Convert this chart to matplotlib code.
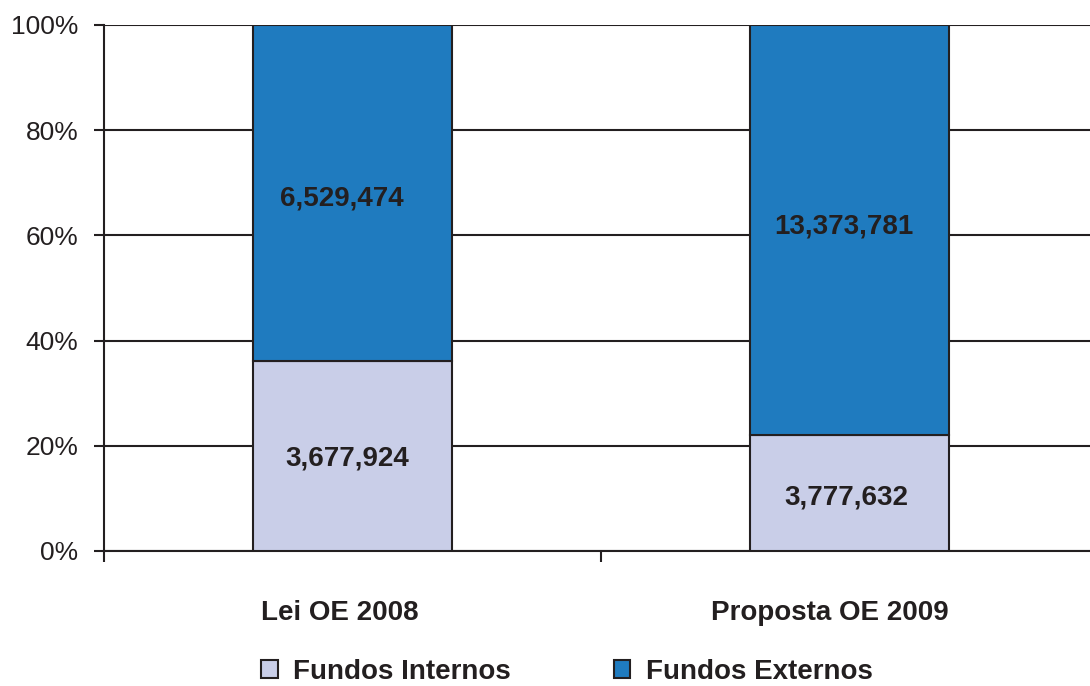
import matplotlib.pyplot as plt
import matplotlib.transforms as mtransforms
import numpy as np

plt.rcParams['font.family'] = ['Liberation Sans', 'DejaVu Sans']

categorias = ['Lei OE 2008', 'Proposta OE 2009']
fundos_internos = [3677924, 3777632]
fundos_externos = [6529474, 13373781]
series_nomes = ['Fundos Internos', 'Fundos Externos']
cores = ['#C9CEE8', '#1F7BBF']
escuro = '#231F20'

internos = np.array(fundos_internos, dtype=float)
externos = np.array(fundos_externos, dtype=float)
total = internos + externos
pct_int = internos / total * 100
pct_ext = externos / total * 100

fig = plt.figure(figsize=(10.9, 6.86), dpi=100)
ax = fig.add_axes([104 / 1090, 1 - 551 / 686, 994 / 1090, 526 / 686])

x = np.arange(len(categorias))
b1 = ax.bar(x, pct_int, width=0.4, color=cores[0], edgecolor=escuro, linewidth=1.5,
            label=series_nomes[0], zorder=3)
b2 = ax.bar(x, pct_ext, width=0.4, bottom=pct_int, color=cores[1], edgecolor=escuro,
            linewidth=1.5, label=series_nomes[1], zorder=3)

# rótulos dos valores (pequenos deslocamentos como no original, em pontos)
desloc_int = [(-4, -1.5), (-2, -3)]
desloc_ext = [(-8, -3.5), (-4, 2.5)]
for i in range(len(categorias)):
    ax.annotate(f'{fundos_internos[i]:,}', (x[i], pct_int[i] / 2),
                xytext=desloc_int[i], textcoords='offset points',
                ha='center', va='center', fontsize=20, fontweight='bold',
                color=escuro, zorder=4)
    ax.annotate(f'{fundos_externos[i]:,}', (x[i], pct_int[i] + pct_ext[i] / 2),
                xytext=desloc_ext[i], textcoords='offset points',
                ha='center', va='center', fontsize=20, fontweight='bold',
                color=escuro, zorder=4)

ax.set_xlim(-0.5, 1.5)
ax.set_ylim(0, 100)
ax.set_yticks(range(0, 101, 20))
ax.set_yticklabels([f'{v}%' for v in range(0, 101, 20)])
ax.yaxis.grid(True, color=escuro, linewidth=1.5)
ax.set_axisbelow(True)

ax.set_xticks(x)
ax.set_xticklabels(categorias, fontsize=20, fontweight='bold', color=escuro)
ax.set_xticks([-0.5, 0.5, 1.5], minor=True)
ax.tick_params(axis='x', which='major', length=0, pad=35)
ax.tick_params(axis='x', which='minor', length=8, width=1.5, color=escuro, direction='out')
ax.tick_params(axis='y', length=7.5, width=1.5, color=escuro, labelsize=19,
               labelcolor=escuro, pad=11)

for lbl, dx in zip(ax.get_xticklabels(), [-13, -20]):
    lbl.set_transform(lbl.get_transform() +
                      mtransforms.ScaledTranslation(dx / 100, 0, fig.dpi_scale_trans))

for s in ['top', 'right']:
    ax.spines[s].set_visible(False)
ax.spines['left'].set_color(escuro)
ax.spines['left'].set_linewidth(1.5)
ax.spines['bottom'].set_color(escuro)
ax.spines['bottom'].set_linewidth(1.5)

leg = fig.legend(handles=[b1, b2], labels=series_nomes, loc='center',
                 bbox_to_anchor=(0.52, 1 - 672 / 686), ncol=2, frameon=False,
                 prop={'size': 20, 'weight': 'bold'}, handlelength=0.6, handleheight=0.6,
                 handletextpad=0.55, columnspacing=3.7)
for t in leg.get_texts():
    t.set_color(escuro)

fig.savefig('out.png', dpi=100)
